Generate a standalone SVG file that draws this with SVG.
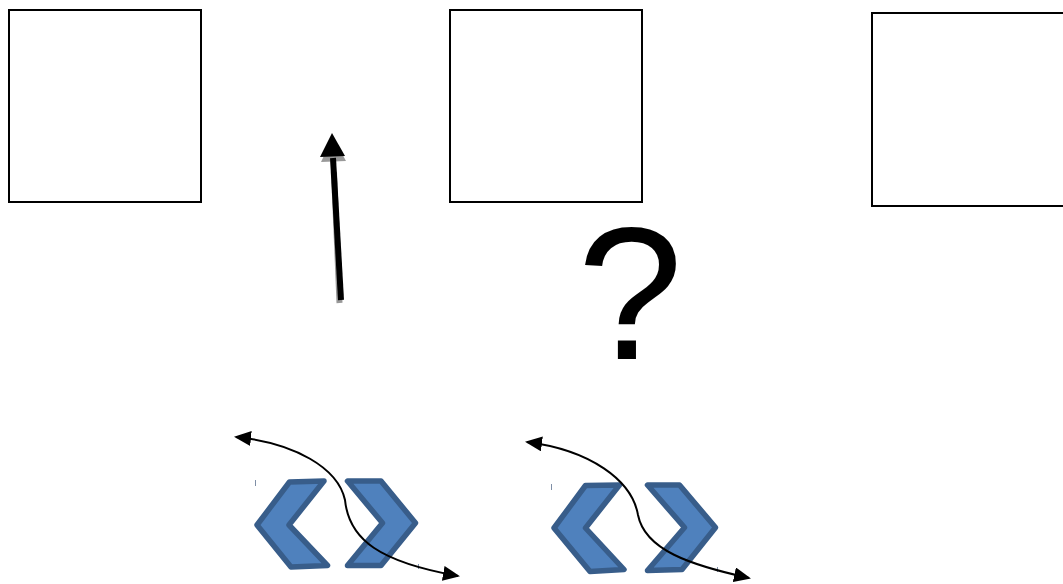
<svg xmlns="http://www.w3.org/2000/svg" width="1063" height="584" viewBox="0 0 1063 584">
<style>
.box{fill:#fff;stroke:#000;stroke-width:2}
.chev{fill:#4F81BD;stroke:#385D8A;stroke-width:5.5;stroke-linejoin:round}
.curve{fill:none;stroke:#000;stroke-width:2}
.tick{stroke:#7F8FA6;stroke-width:1}
.q{font-family:"Liberation Sans",Arial,sans-serif;font-size:190px;fill:#000}
</style>
<defs>
<marker id="ah2" viewBox="0 0 17 15" refX="15" refY="7.5" markerWidth="17" markerHeight="15" markerUnits="userSpaceOnUse" orient="auto-start-reverse">
<path d="M0,0 L17,7.5 L0,15 z" fill="#000"/>
</marker>
</defs>
<rect width="1063" height="584" fill="#fff"/>
<g id="box1"><rect class="box" x="9" y="10" width="192" height="192"/></g>
<g id="box2"><rect class="box" x="450" y="10" width="192" height="192"/></g>
<g id="box3"><rect class="box" x="872" y="13" width="200" height="193"/></g>
<g id="question"><text class="q" x="630" y="359" text-anchor="middle">?</text></g>
<g id="chevrons1">
<polygon class="chev" points="289.5,482 324,481 289,525 327.5,565.5 291,567 257,525"/>
<polygon class="chev" points="347.5,481 381,481 415.5,523 381,565.5 347.5,565.5 382.5,523"/>
<line class="tick" x1="255.5" y1="480" x2="255.5" y2="486"/>
<line class="tick" x1="418.5" y1="564" x2="418.5" y2="569"/>
</g>
<g id="chevrons2">
<polygon class="chev" points="585.5,485.5 619.5,485 585.5,528 624,569.5 590,571.5 554,528"/>
<polygon class="chev" points="647.5,485 679.5,485 715.5,527.5 682,569.5 647.5,570.5 684.5,527.5"/>
<line class="tick" x1="551.5" y1="484" x2="551.5" y2="490"/>
<line class="tick" x1="717.5" y1="567" x2="717.5" y2="572"/>
</g>
<g id="connectors">
<path d="M339,301 L333.5,170" stroke="#999" stroke-width="6" fill="none" transform="translate(0.5,2)"/>
<polygon points="321,160 346,159 333,135" fill="#999" transform="translate(0,2)"/>
<path d="M341,300 L333,158" stroke="#000" stroke-width="6" fill="none"/>
<polygon points="320,157 345,156 332,133" fill="#000"/>
<path class="curve" d="M236,437 C295,443 338,468 345,500 C349,540 380,562 458,576" marker-start="url(#ah2)" marker-end="url(#ah2)"/>
<path class="curve" d="M527,442 C590,450 632,480 638,515 C645,550 690,565 749,578" marker-start="url(#ah2)" marker-end="url(#ah2)"/>
</g>
</svg>
